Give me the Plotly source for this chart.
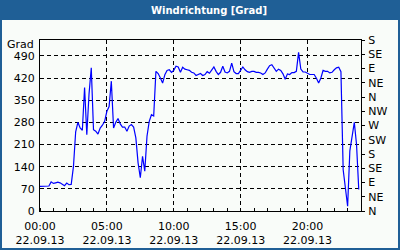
import pandas as pd
import plotly.graph_objects as go

# Wind direction in degrees, 10-minute samples from 22.09.13 00:00
start = "2013-09-22 00:00"
values = [
    78, 78, 78, 78, 79, 92, 87, 89, 91, 89, 85, 80, 88, 83, 84,
    140, 250, 280, 262, 255, 390, 241, 370, 452, 257,
    252, 243, 262, 271, 283, 315, 330, 410, 262, 280, 292, 275, 265, 265,
    252, 268, 273, 265, 231, 152, 105, 173, 126, 236, 283, 304, 300,
    441, 434, 420, 404, 430, 444, 446, 438, 444, 457, 455, 438, 454, 448,
    446, 444, 438, 436, 428, 431, 434,
    428, 431, 440, 435, 445, 455, 441, 431, 438, 457, 439, 436, 441, 467,
    440, 434, 434, 446, 455, 446, 440, 438, 441, 441, 438, 438, 436, 431,
    436, 448, 459, 462, 452, 441, 448,
    444, 433, 416, 433, 431, 437, 437, 441, 501, 448, 439, 439, 434, 431,
    431, 431, 419, 404, 420, 444, 441, 441, 436, 438, 446, 452, 454, 440,
    130, 75, 15, 190, 238, 280, 210, 68,
]
times = pd.date_range(start, periods=len(values), freq="10min")

x_tick_hours = [0, 5, 10, 15, 20]
x_tick_text = ["00:00", "05:00", "10:00", "15:00", "20:00"]
date_label = "22.09.13"
y_ticks = [0, 70, 140, 210, 280, 350, 420, 490]
compass_vals = [0, 45, 90, 135, 180, 225, 270, 315, 360, 405, 450, 495, 540]
compass_text = ["N", "NE", "E", "SE", "S", "SW", "W", "NW", "N", "NE", "E", "SE", "S"]
title = "Windrichtung [Grad]"
y_unit = "Grad"

FONT = "DejaVu Sans"
BLUE = "#1F5F96"
BG = "#F9FCF9"

t0 = pd.Timestamp(start)
t1 = t0 + pd.Timedelta(hours=24)
tickvals = [t0 + pd.Timedelta(hours=h) for h in x_tick_hours]

fig = go.Figure()
fig.add_trace(go.Scatter(x=times, y=values, mode="lines",
                         line=dict(color="#0000FF", width=1.2),
                         hoverinfo="skip", showlegend=False))
fig.add_trace(go.Scatter(x=[times[0]], y=[None], xaxis="x2", yaxis="y2", mode="lines",
                         showlegend=False, hoverinfo="skip"))

W, H = 400, 250
L, R, T, B = 40, 39, 40, 39
pw, ph = W - L - R, H - T - B


def px(x):
    return (x - L) / pw


def py(y):
    return (H - B - y) / ph


grid = dict(showgrid=True, gridcolor="black", gridwidth=1, griddash="4px,3px")

fig.update_layout(
    width=W, height=H,
    margin=dict(l=L, r=R, t=T, b=B, pad=0, autoexpand=False),
    paper_bgcolor=BG, plot_bgcolor=BG,
    font=dict(family=FONT, size=11, color="black"),
    title=dict(text=f"<b>{title}</b>", font=dict(family=FONT, size=10, color="white"),
               x=209 / W, xref="container", xanchor="center",
               y=1 - 10.5 / H, yref="container", yanchor="middle"),
    xaxis=dict(range=[t0, t1], tickmode="array",
               tickvals=tickvals, ticktext=x_tick_text, ticks="",
               showline=True, linecolor="black", linewidth=1, mirror=True,
               zeroline=False, ticklabelstandoff=5, automargin=False,
               minor=dict(dtick=3600000, ticks="inside", ticklen=3,
                          tickcolor="black", showgrid=False), **grid),
    xaxis2=dict(range=[t0, t1], overlaying="x", side="bottom", anchor="y2",
                tickmode="array", tickvals=tickvals,
                ticktext=[date_label] * len(tickvals), ticks="",
                showline=False, showgrid=False, zeroline=False,
                ticklabelstandoff=21, automargin=False),
    yaxis=dict(range=[0, 540], tickmode="array", tickvals=y_ticks, ticks="",
               showline=True, linecolor="black", linewidth=1, mirror=True,
               zeroline=False, ticklabelstandoff=2, automargin=False, **grid),
    yaxis2=dict(range=[0, 540], overlaying="y", side="right", anchor="x2",
                tickmode="array",
                tickvals=compass_vals, ticktext=compass_text, ticks="outside",
                ticklen=3, tickcolor="black", showgrid=False, zeroline=False,
                showline=False, ticklabelstandoff=1, automargin=False),
    shapes=[
        dict(type="rect", xref="paper", yref="paper", x0=px(0), x1=px(W),
             y0=py(20), y1=py(0), fillcolor=BLUE, line=dict(width=0), layer="above"),
        dict(type="rect", xref="paper", yref="paper", x0=px(1), x1=px(W - 1),
             y0=py(H - 1), y1=py(1), fillcolor="rgba(0,0,0,0)",
             line=dict(color=BLUE, width=2), layer="above"),
    ],
    annotations=[
        dict(text=y_unit, xref="paper", yref="paper", x=px(36), y=py(44),
             xanchor="right", yanchor="middle", showarrow=False,
             font=dict(family=FONT, size=11, color="black")),
    ],
)

fig.write_html("out.html")
